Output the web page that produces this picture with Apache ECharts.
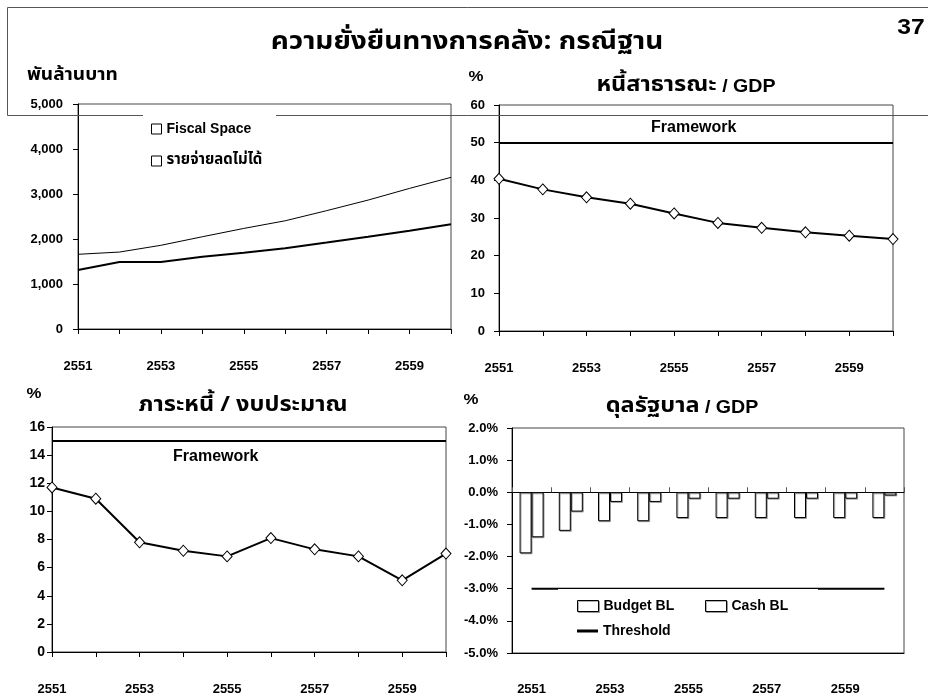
<!DOCTYPE html>
<html>
<head>
<meta charset="utf-8">
<script src="https://cdn.jsdelivr.net/npm/echarts@6/dist/echarts.min.js"></script>
<style>
  html, body { margin: 0; padding: 0; background: #fff; }
  #main { width: 928px; height: 699px; }
</style>
</head>
<body>
<div id="main"></div>
<script>
// Fiscal years (Thai Buddhist calendar)
const years = ['2551', '2552', '2553', '2554', '2555', '2556', '2557', '2558', '2559', '2560'];

// Expenditure structure, billion baht (Fiscal Space is stacked on top)
const nonReducible = [1310, 1490, 1490, 1605, 1695, 1795, 1920, 2050, 2185, 2330];
const fiscalSpace  = [350, 220, 370, 445, 540, 610, 710, 815, 940, 1040];

// Public debt / GDP, %
const debtToGdp = [40.4, 37.6, 35.5, 33.8, 31.2, 28.7, 27.4, 26.2, 25.3, 24.4];
const debtFramework = 50;

// Debt service / budget, %
const debtService = [11.7, 10.9, 7.8, 7.2, 6.8, 8.1, 7.3, 6.8, 5.1, 7.0];
const debtServiceFramework = 15;

// Government balance / GDP, %
const budgetBL    = [-1.9, -1.2, -0.9, -0.9, -0.8, -0.8, -0.8, -0.8, -0.8, -0.8];
const cashBL      = [-1.4, -0.6, -0.3, -0.3, -0.2, -0.2, -0.2, -0.2, -0.2, -0.1];
const thresholdBL = [-3, -3, -3, -3, -3, -3, -3, -3, -3, -3];

// Value-axis ranges: [min, max, interval]
const spendAxis   = [0, 5000, 1000];
const debtAxis    = [0, 60, 10];
const serviceAxis = [0, 16, 2];
const balanceAxis = [-5, 2, 1];

const FONT = '"Liberation Sans", Arial, sans-serif';
const THAI = '"Noto Sans Thai", "Liberation Sans", sans-serif';
const WIDE = 1.12; // horizontal stretch of the slide lettering

const chart = echarts.init(document.getElementById('main'), null, { renderer: 'canvas' });

const axisText = { color: '#000', fontFamily: FONT, fontWeight: 'bold', fontSize: 13 };

function catAxis(gridIndex, extra) {
  return Object.assign({
    type: 'category',
    gridIndex: gridIndex,
    data: years,
    boundaryGap: false,
    axisLine: { show: true, onZero: false, lineStyle: { color: '#000', width: 1 } },
    axisTick: { show: true, length: 5, interval: 0, lineStyle: { color: '#000' } },
    axisLabel: Object.assign({ interval: 1, margin: 31 }, axisText),
    splitLine: { show: false }
  }, extra || {});
}

function valAxis(gridIndex, range, extra, labelExtra) {
  return Object.assign({
    type: 'value',
    gridIndex: gridIndex,
    min: range[0],
    max: range[1],
    interval: range[2],
    axisLine: { show: true, lineStyle: { color: '#000', width: 1 } },
    axisTick: { show: true, length: 5, lineStyle: { color: '#000' } },
    axisLabel: Object.assign({ margin: 14 }, axisText, labelExtra || {}),
    splitLine: { show: false }
  }, extra || {});
}

const openMarker = { color: '#fff', borderColor: '#000', borderWidth: 1 };
const boxItem = { color: '#fff', borderColor: '#000', borderWidth: 1 };
const barItem = {
  color: '#fff', borderColor: '#000', borderWidth: 1,
  shadowColor: 'rgba(0,0,0,0.3)', shadowOffsetX: 1, shadowOffsetY: 1, shadowBlur: 0
};
const legendText = { color: '#000', fontFamily: FONT, fontWeight: 'bold', fontSize: 14, lineHeight: 16 };

const gridBorder = { show: true, borderColor: '#444', borderWidth: 1, backgroundColor: 'transparent' };

// heading text with a Thai part and an optional Latin part
function heading(x, y, thai, latin, thaiSize, latinSize, align) {
  return {
    type: 'text', z: 6, x: x, y: y, scaleX: WIDE,
    style: {
      text: '{th|' + thai + '}' + (latin ? '{en|' + latin + '}' : ''),
      align: align || 'center', verticalAlign: 'middle', fill: '#000',
      rich: {
        th: { fontFamily: THAI, fontWeight: 'bold', fontSize: thaiSize, fill: '#000' },
        en: { fontFamily: FONT, fontWeight: 'bold', fontSize: latinSize, fill: '#000' }
      }
    }
  };
}

function plainText(x, y, text, size) {
  return {
    type: 'text', z: 6, x: x, y: y, scaleX: WIDE,
    style: { text: text, font: 'bold ' + size + 'px ' + FONT, fill: '#000', align: 'center', verticalAlign: 'middle' }
  };
}

const frameworkLabel = (position, distance) => ({
  show: true, position: position, distance: distance, formatter: 'Framework',
  color: '#000', fontFamily: FONT, fontWeight: 'bold', fontSize: 16
});

const option = {
  animation: false,
  backgroundColor: '#fff',
  grid: [
    Object.assign({ left: 78, top: 104, width: 373, height: 225 }, gridBorder),
    Object.assign({ left: 499, top: 105, width: 394, height: 226 }, gridBorder),
    Object.assign({ left: 52, top: 427, width: 394, height: 225 }, gridBorder),
    Object.assign({ left: 512, top: 428, width: 392, height: 225 }, gridBorder)
  ],
  xAxis: [
    catAxis(0),
    catAxis(1),
    catAxis(2),
    catAxis(3, {
      boundaryGap: true,
      axisTick: { show: false },
      axisLabel: Object.assign({ interval: 1, margin: 30 }, axisText)
    }),
    // zero line of the balance panel, with category ticks
    catAxis(3, {
      boundaryGap: true,
      axisLine: { show: true, onZero: true, lineStyle: { color: '#000', width: 1 } },
      axisTick: { show: true, length: 5, interval: 0, lineStyle: { color: '#555' } },
      axisLabel: { show: false }
    })
  ],
  yAxis: [
    valAxis(0, spendAxis, null, { margin: 15, formatter: v => v.toLocaleString('en-US') }),
    valAxis(1, debtAxis),
    valAxis(2, serviceAxis, null, { margin: 7, fontSize: 14 }),
    valAxis(3, balanceAxis, null, { formatter: v => v.toFixed(1) + '%' })
  ],
  legend: [
    {
      left: 151, top: 121, orient: 'vertical', padding: 0, z: 8,
      itemWidth: 10, itemHeight: 10, itemGap: 16, selectedMode: false,
      textStyle: legendText,
      data: [
        { name: 'Fiscal Space', icon: 'rect', itemStyle: boxItem },
        { name: 'รายจ่ายลดไม่ได้', icon: 'rect', itemStyle: boxItem,
          textStyle: { fontFamily: THAI, fontSize: 15, fontWeight: 'bold', color: '#000', lineHeight: 16 } }
      ]
    },
    {
      left: 577, top: 598, padding: 0, z: 8,
      itemWidth: 21, itemHeight: 11, selectedMode: false, textStyle: legendText,
      data: [{ name: 'Budget BL', icon: 'rect', itemStyle: barItem }]
    },
    {
      left: 705, top: 598, padding: 0, z: 8,
      itemWidth: 21, itemHeight: 11, selectedMode: false, textStyle: legendText,
      data: [{ name: 'Cash BL', icon: 'rect', itemStyle: barItem }]
    },
    {
      left: 577, top: 623, padding: 0, z: 8,
      itemWidth: 21, itemHeight: 3, selectedMode: false, textStyle: legendText,
      data: [{ name: 'Threshold', icon: 'rect', itemStyle: { color: '#000' } }]
    }
  ],
  graphic: [
    // slide frame around the heading
    {
      type: 'polyline', z: 3, silent: true,
      shape: { points: [[928, 7.5], [7.5, 7.5], [7.5, 115.5], [928, 115.5]] },
      style: { stroke: '#555', lineWidth: 1, fill: null }
    },
    // legend backgrounds
    { type: 'rect', z: 5, silent: true, shape: { x: 143, y: 110, width: 133, height: 66 }, style: { fill: '#fff' } },
    { type: 'rect', z: 5, silent: true, shape: { x: 558, y: 589, width: 260, height: 52 }, style: { fill: '#fff' } },
    // headings
    heading(467, 44, 'ความยั่งยืนทางการคลัง: กรณีฐาน', null, 25, 20),
    plainText(911, 28, '37', 22),
    heading(27, 77, 'พันล้านบาท', null, 17, 15, 'left'),
    plainText(476, 77, '%', 15),
    heading(686, 87, 'หนี้สาธารณะ', ' / GDP', 21, 17.5),
    plainText(34, 394, '%', 15),
    heading(243, 407, 'ภาระหนี้ / งบประมาณ', null, 21, 17.5),
    plainText(471, 400, '%', 15),
    heading(682, 408, 'ดุลรัฐบาล', ' / GDP', 21, 17.5)
  ],
  series: [
    {
      name: 'รายจ่ายลดไม่ได้', type: 'line', xAxisIndex: 0, yAxisIndex: 0, stack: 'spend',
      data: nonReducible, symbol: 'none', lineStyle: { color: '#000', width: 2 }, itemStyle: boxItem
    },
    {
      name: 'Fiscal Space', type: 'line', xAxisIndex: 0, yAxisIndex: 0, stack: 'spend',
      data: fiscalSpace, symbol: 'none', lineStyle: { color: '#000', width: 1 }, itemStyle: boxItem
    },
    {
      name: 'หนี้สาธารณะ / GDP', type: 'line', xAxisIndex: 1, yAxisIndex: 1,
      data: debtToGdp, symbol: 'diamond', symbolSize: [10, 11], itemStyle: openMarker,
      lineStyle: { color: '#000', width: 2 }, z: 3,
      markLine: {
        silent: true, symbol: 'none',
        lineStyle: { color: '#000', width: 2, type: 'solid' },
        label: frameworkLabel('insideStartTop', [152, 7]),
        data: [{ yAxis: debtFramework }]
      }
    },
    {
      name: 'ภาระหนี้ / งบประมาณ', type: 'line', xAxisIndex: 2, yAxisIndex: 2,
      data: debtService, symbol: 'diamond', symbolSize: [10, 11], itemStyle: openMarker,
      lineStyle: { color: '#000', width: 2 }, z: 3,
      markLine: {
        silent: true, symbol: 'none',
        lineStyle: { color: '#000', width: 2, type: 'solid' },
        label: frameworkLabel('insideStartBottom', [121, 8]),
        data: [{ yAxis: debtServiceFramework }]
      }
    },
    {
      name: 'Budget BL', type: 'bar', xAxisIndex: 3, yAxisIndex: 3,
      data: budgetBL, barWidth: 12, barGap: '0%', itemStyle: barItem
    },
    {
      name: 'Cash BL', type: 'bar', xAxisIndex: 3, yAxisIndex: 3,
      data: cashBL, barWidth: 12, barGap: '0%', itemStyle: barItem
    },
    {
      name: 'Threshold', type: 'line', xAxisIndex: 3, yAxisIndex: 3,
      data: thresholdBL, symbol: 'none', lineStyle: { color: '#000', width: 2 }, itemStyle: { color: '#000' }
    }
  ]
};

chart.setOption(option);
</script>
</body>
</html>
